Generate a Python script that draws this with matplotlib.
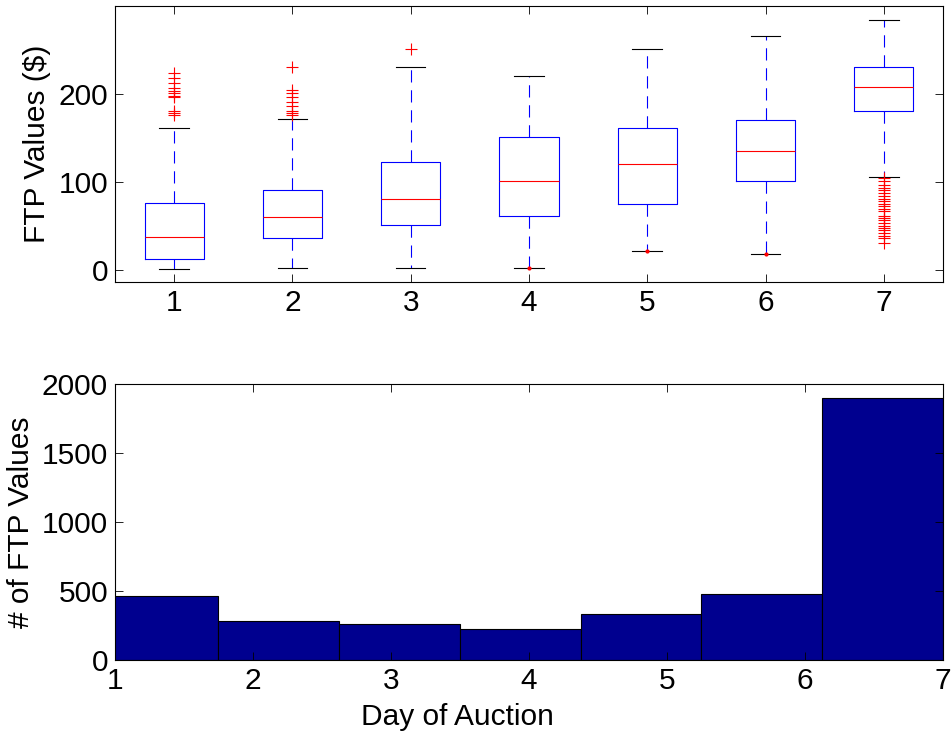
import numpy as np
import matplotlib
matplotlib.use('Agg')
import matplotlib.pyplot as plt

plt.rcParams['font.family'] = ['Liberation Sans', 'DejaVu Sans']

# box plot stats per day of auction
days = [1, 2, 3, 4, 5, 6, 7]
q1 = [12.5, 35.6, 50.4, 61.0, 74.6, 100.4, 181.0]
medians = [37.0, 60.0, 80.3, 100.4, 120.8, 134.5, 208.3]
q3 = [75.8, 90.5, 122.4, 150.8, 161.0, 170.8, 231.0]
whis_lo = [0.8, 1.5, 1.5, 2.0, 21.6, 18.2, 105.0]
whis_hi = [161.0, 171.0, 231.0, 220.8, 251.0, 266.0, 284.5]
fliers = [
    [224.2, 218.0, 212.0, 206.4, 203.8, 200.8, 198.0, 196.2, 181.0, 178.5, 176.1],
    [231.0, 205.0, 201.0, 196.0, 191.0, 186.0, 181.0, 178.0, 176.0],
    [251.0],
    [],
    [],
    [],
    [104.2, 100.4, 96.6, 92.8, 90.2, 87.1, 83.3, 80.3, 77.7, 75.0, 72.0, 69.0,
     66.3, 61.4, 58.7, 56.0, 53.0, 50.0, 47.3, 44.7, 41.7, 38.6, 35.6, 30.3],
]
# little red dots sitting on the lower whiskers
dot_days = [4, 5, 6]
dot_vals = [2.0, 21.6, 18.2]

# histogram of FTP values per day
bin_edges = [0.875, 1.75, 2.625, 3.5, 4.375, 5.25, 6.125, 7.0]
counts = [466, 283, 263, 228, 335, 476, 1896]

FS = 21.5

fig = plt.figure(figsize=(9.52, 7.34), dpi=100)
ax1 = fig.add_axes([0.1208, 0.6158, 0.8697, 0.376])
ax2 = fig.add_axes([0.1208, 0.1008, 0.8697, 0.376])

stats = []
for i in range(len(days)):
    stats.append(dict(med=medians[i], q1=q1[i], q3=q3[i], whislo=whis_lo[i],
                      whishi=whis_hi[i], fliers=fliers[i]))

ax1.bxp(stats, positions=days, widths=0.5, showfliers=True,
        boxprops=dict(color='blue', linewidth=0.8),
        medianprops=dict(color='red', linewidth=0.8),
        whiskerprops=dict(color='blue', linewidth=0.8, linestyle=(0, (11, 7))),
        capprops=dict(color='black', linewidth=0.8),
        capwidths=0.25,
        flierprops=dict(marker='+', markeredgecolor='red', markersize=8,
                        markeredgewidth=0.8, linestyle='none'))
ax1.plot(dot_days, dot_vals, '.', color='red', markersize=4)
ax1.set_xlim(0.5, 7.5)
ax1.set_ylim(-14, 300)
ax1.set_yticks([0, 100, 200])
ax1.set_xticks(days)
ax1.set_xticklabels([str(d) for d in days])
ax1.set_ylabel('FTP Values ($)', fontsize=FS, labelpad=5)

ax2.bar(bin_edges[:-1], counts, width=np.diff(bin_edges), align='edge',
        color='#00008F', edgecolor='black', linewidth=0.8)
ax2.set_xlim(1, 7)
ax2.set_ylim(0, 2000)
ax2.set_xticks(days)
ax2.set_yticks([0, 500, 1000, 1500, 2000])
ax2.set_ylabel('# of FTP Values', fontsize=FS, labelpad=5)
ax2.set_xlabel('Day of Auction', fontsize=FS, labelpad=2)
ax2.xaxis.set_label_coords(0.414, -0.155)

for ax in (ax1, ax2):
    ax.tick_params(direction='in', top=True, right=True, length=5.5,
                   width=0.6, labelsize=FS, pad=5)
    for s in ax.spines.values():
        s.set_linewidth(0.8)

fig.savefig('out.png', dpi=100)
